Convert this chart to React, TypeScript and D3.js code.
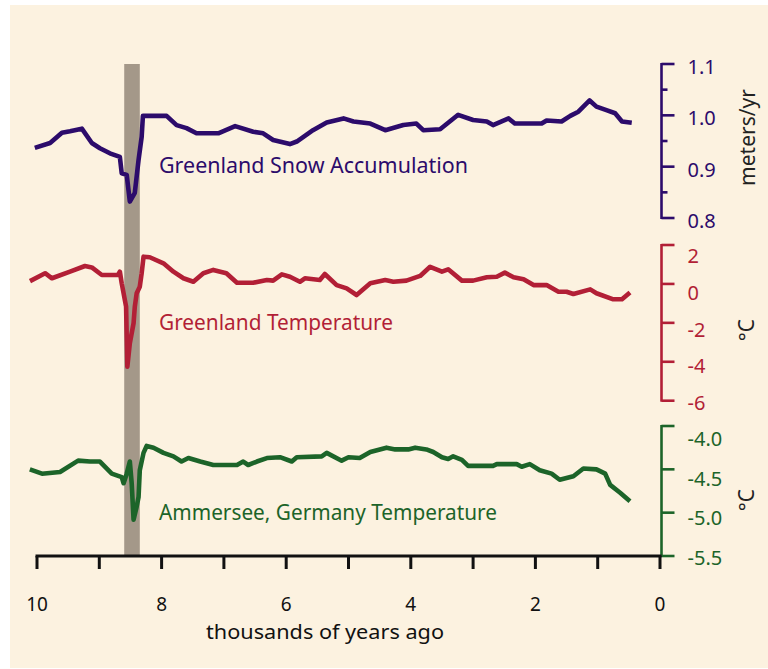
import React from "react";
import * as d3 from "d3";

// ---- Data (thousands of years ago, value) ----
const snowYears = [10.0, 9.79, 9.6, 9.47, 9.28, 9.12, 8.99, 8.83, 8.67, 8.64, 8.56, 8.51, 8.43, 8.37, 8.32, 8.3, 7.92, 7.76, 7.6, 7.44, 7.09, 6.82, 6.53, 6.37, 6.21, 5.94, 5.83, 5.57, 5.35, 5.08, 4.92, 4.65, 4.41, 4.12, 3.91, 3.8, 3.53, 3.24, 3.0, 2.78, 2.68, 2.43, 2.33, 1.9, 1.82, 1.58, 1.44, 1.31, 1.13, 1.02, 0.86, 0.72, 0.61, 0.49];
const snowValues = [0.938, 0.946, 0.966, 0.969, 0.974, 0.946, 0.936, 0.926, 0.919, 0.887, 0.884, 0.832, 0.849, 0.913, 0.958, 0.999, 0.999, 0.981, 0.975, 0.965, 0.965, 0.979, 0.968, 0.965, 0.952, 0.944, 0.949, 0.971, 0.986, 0.994, 0.988, 0.984, 0.971, 0.981, 0.984, 0.971, 0.973, 1.001, 0.991, 0.988, 0.981, 0.994, 0.984, 0.984, 0.99, 0.988, 0.999, 1.007, 1.029, 1.017, 1.01, 1.004, 0.988, 0.986];

const grTempYears = [10.08, 9.87, 9.76, 9.47, 9.23, 9.12, 8.96, 8.7, 8.67, 8.64, 8.57, 8.55, 8.51, 8.45, 8.43, 8.4, 8.35, 8.32, 8.29, 8.19, 7.97, 7.81, 7.65, 7.49, 7.33, 7.17, 6.96, 6.79, 6.53, 6.31, 6.21, 6.07, 5.94, 5.78, 5.7, 5.46, 5.38, 5.19, 5.03, 4.87, 4.65, 4.41, 4.28, 4.07, 3.85, 3.69, 3.5, 3.4, 3.18, 3.0, 2.78, 2.62, 2.49, 2.35, 2.19, 2.03, 1.82, 1.63, 1.5, 1.39, 1.12, 1.02, 0.75, 0.61, 0.51];
const grTempValues = [0.2, 0.55, 0.29, 0.63, 0.92, 0.85, 0.46, 0.46, 0.63, 0.03, -1.17, -4.25, -3.05, -2.02, -1.17, -0.48, -0.14, 0.55, 1.4, 1.37, 1.06, 0.63, 0.29, 0.11, 0.55, 0.72, 0.55, 0.06, 0.06, 0.2, 0.17, 0.49, 0.37, 0.11, 0.29, 0.2, 0.51, -0.06, -0.23, -0.57, 0.03, 0.2, 0.11, 0.17, 0.41, 0.88, 0.63, 0.75, 0.17, 0.17, 0.34, 0.37, 0.58, 0.34, 0.24, -0.06, -0.06, -0.4, -0.4, -0.52, -0.28, -0.48, -0.79, -0.79, -0.52];

const amYears = [10.08, 9.92, 9.63, 9.34, 9.15, 8.99, 8.8, 8.64, 8.61, 8.56, 8.51, 8.48, 8.45, 8.4, 8.37, 8.35, 8.29, 8.24, 8.13, 7.97, 7.81, 7.68, 7.57, 7.38, 7.17, 6.79, 6.69, 6.61, 6.47, 6.31, 6.1, 5.91, 5.83, 5.43, 5.35, 5.11, 5.0, 4.82, 4.65, 4.39, 4.25, 4.04, 3.93, 3.75, 3.64, 3.5, 3.4, 3.32, 3.18, 3.08, 2.68, 2.62, 2.3, 2.22, 2.09, 1.93, 1.74, 1.61, 1.39, 1.23, 1.02, 0.88, 0.8, 0.64, 0.51];
const amValues = [-4.51, -4.55, -4.53, -4.4, -4.41, -4.41, -4.55, -4.59, -4.66, -4.55, -4.41, -4.66, -5.08, -4.93, -4.82, -4.51, -4.31, -4.23, -4.25, -4.31, -4.35, -4.41, -4.37, -4.41, -4.45, -4.45, -4.41, -4.45, -4.41, -4.37, -4.36, -4.41, -4.36, -4.35, -4.31, -4.4, -4.36, -4.37, -4.3, -4.25, -4.27, -4.27, -4.25, -4.27, -4.3, -4.36, -4.38, -4.35, -4.39, -4.46, -4.46, -4.44, -4.44, -4.47, -4.44, -4.51, -4.55, -4.62, -4.58, -4.49, -4.5, -4.55, -4.68, -4.77, -4.85];

const eventBand = [8.6, 8.35];

const xTicks = [10, 9, 8, 7, 6, 5, 4, 3, 2, 1, 0];
const xTickLabels = [10, 8, 6, 4, 2, 0];
const snowTicks = [0.8, 0.85, 0.9, 0.95, 1.0, 1.05, 1.1];
const snowTickLabels = [0.8, 0.9, 1.0, 1.1];
const grTempTicks = [2, 0, -2, -4, -6];
const amTicks = [-4.0, -4.5, -5.0, -5.5];

const seriesLabels = ["Greenland Snow Accumulation", "Greenland Temperature", "Ammersee, Germany Temperature"];

// ---- Styles ----
const BG = "#fcf2e0";
const PURPLE = "#2c0b6b";
const RED = "#b21f36";
const GREEN = "#1c6429";
const BAND = "#a49889";
const FONT = "'Noto Sans', 'Open Sans', sans-serif";

export default function App() {
  const W = 768, H = 669;
  const axisX = 661.5;
  const x = d3.scaleLinear().domain([10, 0]).range([37, 660]);
  const ySnow = d3.scaleLinear().domain([0.8, 1.1]).range([218, 64]);
  const yGr = d3.scaleLinear().domain([-6, 2]).range([400.7, 245]);
  const yAm = d3.scaleLinear().domain([-5.5, -4]).range([556, 426]);
  // label placement (labels in the original sit slightly below their ticks)
  const ySnowLab = d3.scaleLinear().domain([0.8, 1.1]).range([221, 67]);
  const yGrLab = d3.scaleLinear().domain([-6, 2]).range([403, 256]);
  const yAmLab = d3.scaleLinear().domain([-5.5, -4]).range([558, 439]);

  const mk = (xs: number[], vs: number[], ys: d3.ScaleLinear<number, number>) =>
    d3.line<number>().x((_, i) => x(xs[i])).y((v) => ys(v))(vs) || "";

  const lineStyle = { fill: "none", strokeWidth: 4.6, strokeLinejoin: "round" as const, strokeLinecap: "square" as const };

  const hyphen = (s: string) => s.replace("\u2212", "-");

  const rightAxis = (
    ys: d3.ScaleLinear<number, number>,
    ticks: number[],
    labels: number[],
    labY: d3.ScaleLinear<number, number>,
    fmt: (v: number) => string,
    color: string
  ) => {
    const [lo, hi] = ys.range();
    return (
      <g>
        <line x1={axisX} x2={axisX} y1={lo + 1} y2={hi - 1} stroke={color} strokeWidth={2.6} />
        {ticks.map((t) => {
          const major = labels.some((l) => Math.abs(l - t) < 1e-9);
          return (
            <line key={"t" + t} x1={axisX} x2={axisX + (major ? 13 : 6)} y1={ys(t)} y2={ys(t)} stroke={color} strokeWidth={2.6} />
          );
        })}
        {labels.map((t) => (
          <text key={"l" + t} x={axisX + 26} y={labY(t)} dy="0.35em" fill={color} fontSize={20} fontFamily={FONT}>
            {hyphen(fmt(t))}
          </text>
        ))}
      </g>
    );
  };

  return (
    <svg width={W} height={H} style={{ position: "absolute", left: 0, top: 0, display: "block" }}>
      <rect x={0} y={0} width={W} height={H} fill="#ffffff" />
      <rect x={10} y={5} width={W - 10} height={H - 6} fill={BG} />

      {/* event band */}
      <rect x={x(eventBand[0])} y={64} width={x(eventBand[1]) - x(eventBand[0])} height={556 - 64} fill={BAND} />

      {/* series */}
      <path d={mk(snowYears, snowValues, ySnow)} stroke={PURPLE} {...lineStyle} />
      <path d={mk(grTempYears, grTempValues, yGr)} stroke={RED} {...lineStyle} />
      <path d={mk(amYears, amValues, yAm)} stroke={GREEN} {...lineStyle} />

      {/* series labels */}
      <text x={159} y={172.5} fill={PURPLE} fontSize={22} fontFamily={FONT} textLength={309} lengthAdjust="spacingAndGlyphs">{seriesLabels[0]}</text>
      <text x={159} y={330} fill={RED} fontSize={22} fontFamily={FONT} textLength={234} lengthAdjust="spacingAndGlyphs">{seriesLabels[1]}</text>
      <text x={159} y={520} fill={GREEN} fontSize={22} fontFamily={FONT} textLength={338} lengthAdjust="spacingAndGlyphs">{seriesLabels[2]}</text>

      {/* right axes */}
      {rightAxis(ySnow, snowTicks, snowTickLabels, ySnowLab, d3.format(".1f"), PURPLE)}
      {rightAxis(yGr, grTempTicks, grTempTicks, yGrLab, d3.format("d"), RED)}
      {rightAxis(yAm, amTicks, amTicks, yAmLab, d3.format(".1f"), GREEN)}

      {/* axis titles */}
      <text transform="translate(755,137.5) rotate(-90)" textAnchor="middle" fill="#222" fontSize={21} fontFamily={FONT}>meters/yr</text>
      <text transform="translate(754,330) rotate(-90)" textAnchor="middle" fill="#222" fontSize={21} fontFamily={FONT}>°C</text>
      <text transform="translate(754,500) rotate(-90)" textAnchor="middle" fill="#222" fontSize={21} fontFamily={FONT}>°C</text>

      {/* x axis */}
      <line x1={x(10) - 1.5} x2={x(0) + 1.5} y1={556} y2={556} stroke="#111" strokeWidth={3} />
      {xTicks.map((t) => (
        <line key={"xt" + t} x1={x(t)} x2={x(t)} y1={556} y2={569} stroke="#111" strokeWidth={3} />
      ))}
      {xTickLabels.map((t) => (
        <text key={"xl" + t} x={x(t)} y={610.5} textAnchor="middle" fill="#111" fontSize={19} fontFamily={FONT}>{t}</text>
      ))}
      <text x={325} y={639} textAnchor="middle" fill="#111" fontSize={20} fontFamily={FONT} textLength={238} lengthAdjust="spacingAndGlyphs">thousands of years ago</text>
    </svg>
  );
}
